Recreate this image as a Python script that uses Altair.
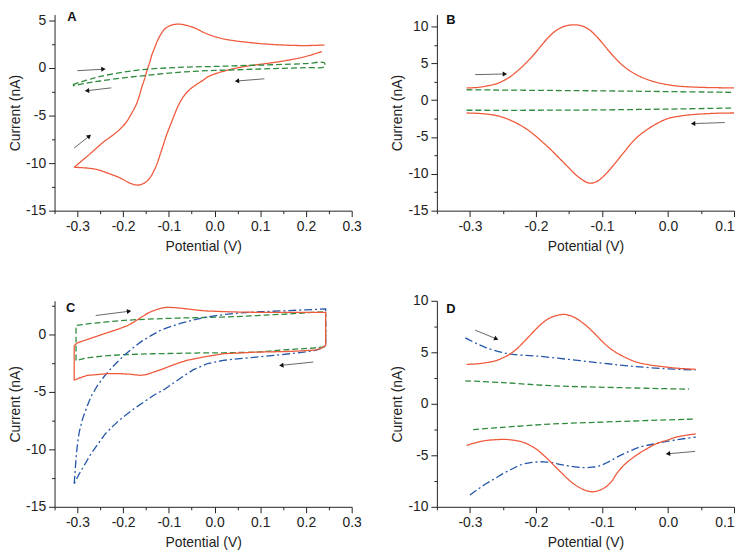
import math
import altair as alt
import pandas as pd

RED = "#ef5a3c"
GREEN = "#2e8b3e"
BLUE = "#2456a8"

# ---------------- tick values ----------------
X_TICKS_AC = [-0.35, -0.3, -0.25, -0.2, -0.15, -0.1, -0.05, 0.0, 0.05, 0.1, 0.15, 0.2, 0.25, 0.3]
X_TICKS_BD = [-0.35, -0.3, -0.25, -0.2, -0.15, -0.1, -0.05, 0.0, 0.05, 0.1]
Y_TICKS_A = [-15, -12.5, -10, -7.5, -5, -2.5, 0, 2.5, 5]
Y_TICKS_B = [-15, -12.5, -10, -7.5, -5, -2.5, 0, 2.5, 5, 7.5, 10]
Y_TICKS_C = [-15, -12.5, -10, -7.5, -5, -2.5, 0, 2.5]
Y_TICKS_D = [-10, -7.5, -5, -2.5, 0, 2.5, 5, 7.5, 10]

# ---------------- panel A ----------------
A_RED_FWD = [(-0.307, -10.45), (-0.29, -9.75), (-0.278, -9.27), (-0.26, -8.5), (-0.242, -7.75),
             (-0.222, -7.05), (-0.205, -6.35), (-0.193, -5.7), (-0.184, -5.0), (-0.176, -4.3),
             (-0.17, -3.7), (-0.164, -2.85), (-0.159, -2.0), (-0.153, -1.15), (-0.148, -0.3),
             (-0.142, 0.55), (-0.137, 1.38), (-0.131, 2.1), (-0.126, 2.74), (-0.119, 3.4),
             (-0.112, 3.92), (-0.103, 4.3), (-0.094, 4.49), (-0.085, 4.58), (-0.075, 4.59),
             (-0.06, 4.45), (-0.047, 4.26), (-0.035, 4.0), (-0.025, 3.75), (-0.01, 3.45),
             (0.01, 3.15), (0.03, 2.95), (0.06, 2.75), (0.1, 2.55), (0.14, 2.42), (0.18, 2.35),
             (0.21, 2.35), (0.24, 2.4)]
A_RED_REV = [(0.235, 1.72), (0.2, 1.2), (0.16, 0.8), (0.12, 0.5), (0.08, 0.25), (0.04, -0.1),
             (0.02, -0.35), (0.0, -0.65), (-0.015, -0.95), (-0.025, -1.3), (-0.035, -1.6),
             (-0.047, -2.0), (-0.058, -2.45), (-0.068, -3.01), (-0.076, -3.65), (-0.083, -4.36),
             (-0.09, -5.2), (-0.097, -6.05), (-0.105, -7.05), (-0.112, -8.08), (-0.119, -9.1),
             (-0.126, -10.1), (-0.133, -10.85), (-0.14, -11.46), (-0.148, -11.9), (-0.155, -12.14),
             (-0.163, -12.28), (-0.17, -12.31), (-0.18, -12.2), (-0.191, -11.97), (-0.205, -11.6),
             (-0.22, -11.3), (-0.24, -10.95), (-0.256, -10.69), (-0.28, -10.52), (-0.307, -10.45)]
A_GREEN = [(-0.31, -1.75), (-0.28, -1.3), (-0.25, -0.9), (-0.2, -0.45), (-0.15, -0.15),
           (-0.1, 0.0), (-0.05, 0.1), (0.0, 0.15), (0.05, 0.22), (0.1, 0.29), (0.15, 0.36),
           (0.2, 0.45), (0.24, 0.54),
           (0.24, 0.12), (0.2, 0.03), (0.15, -0.05), (0.1, -0.12), (0.05, -0.2), (0.0, -0.27),
           (-0.05, -0.38), (-0.1, -0.55), (-0.15, -0.8), (-0.2, -1.05), (-0.25, -1.38),
           (-0.28, -1.6), (-0.31, -1.88)]
A_ARROWS = [((-0.3, -0.3), (-0.243, -0.14)), ((-0.226, -2.1), (-0.279, -2.4)),
            ((0.109, -1.15), (0.049, -1.38)), ((-0.307, -8.42), (-0.274, -7.17))]

# ---------------- panel B ----------------
B_RED_UP = [(-0.305, 1.65), (-0.29, 1.7), (-0.275, 1.9), (-0.26, 2.2), (-0.25, 2.6), (-0.24, 3.1),
            (-0.23, 3.8), (-0.22, 4.6), (-0.21, 5.5), (-0.2, 6.5), (-0.19, 7.6), (-0.18, 8.6),
            (-0.17, 9.4), (-0.16, 9.9), (-0.15, 10.15), (-0.14, 10.2), (-0.13, 10.05), (-0.12, 9.6),
            (-0.11, 8.8), (-0.1, 7.8), (-0.09, 6.7), (-0.08, 5.7), (-0.07, 4.8), (-0.06, 4.1),
            (-0.05, 3.55), (-0.04, 3.1), (-0.025, 2.6), (-0.01, 2.25), (0.01, 1.95), (0.03, 1.8),
            (0.06, 1.7), (0.1, 1.65)]
B_RED_LOW = [(-0.305, -1.75), (-0.28, -1.85), (-0.26, -2.1), (-0.245, -2.5), (-0.23, -3.1),
             (-0.22, -3.6), (-0.21, -4.2), (-0.2, -4.9), (-0.19, -5.7), (-0.18, -6.5), (-0.17, -7.4),
             (-0.16, -8.3), (-0.15, -9.2), (-0.14, -10.1), (-0.13, -10.8), (-0.12, -11.25),
             (-0.112, -11.2), (-0.105, -10.9), (-0.095, -10.1), (-0.085, -9.1), (-0.075, -8.0),
             (-0.065, -6.9), (-0.055, -5.8), (-0.045, -4.9), (-0.03, -3.9), (-0.015, -3.1),
             (0.0, -2.5), (0.02, -2.15), (0.04, -1.95), (0.07, -1.8), (0.1, -1.75)]
B_GREEN_UP = [(-0.305, 1.4), (-0.2, 1.32), (-0.1, 1.25), (0.0, 1.15), (0.1, 1.05)]
B_GREEN_LOW = [(-0.305, -1.38), (-0.2, -1.38), (-0.1, -1.33), (0.0, -1.22), (0.1, -1.08)]
B_ARROWS = [((-0.292, 3.45), (-0.247, 3.54)), ((0.086, -3.05), (0.038, -3.19))]

# ---------------- panel C ----------------
C_RED = [(-0.307, -4.0), (-0.307, -0.98), (-0.3, -0.75), (-0.285, -0.55), (-0.265, -0.28),
         (-0.242, 0.03), (-0.21, 0.45), (-0.19, 0.75), (-0.177, 1.04), (-0.165, 1.35),
         (-0.155, 1.6), (-0.145, 1.85), (-0.133, 2.05), (-0.118, 2.25), (-0.104, 2.34),
         (-0.085, 2.3), (-0.061, 2.2), (-0.04, 2.1), (-0.02, 2.02), (0.019, 1.96), (0.055, 1.92),
         (0.091, 1.9), (0.13, 1.9), (0.164, 1.9), (0.2, 1.9), (0.243, 1.9), (0.243, -0.98),
         (0.235, -1.2), (0.22, -1.38), (0.19, -1.45), (0.164, -1.5), (0.091, -1.56),
         (0.019, -1.7), (-0.025, -1.99), (-0.045, -2.15), (-0.061, -2.28), (-0.08, -2.52),
         (-0.097, -2.77), (-0.115, -3.05), (-0.133, -3.29), (-0.148, -3.5), (-0.162, -3.58),
         (-0.185, -3.48), (-0.206, -3.43), (-0.234, -3.43), (-0.255, -3.5), (-0.278, -3.58),
         (-0.295, -3.8), (-0.307, -4.0)]
C_GREEN = [(-0.303, -2.28), (-0.303, 0.75), (-0.29, 0.83), (-0.278, 0.9), (-0.24, 1.05),
           (-0.206, 1.18), (-0.17, 1.26), (-0.133, 1.33), (-0.08, 1.4), (-0.025, 1.45),
           (0.019, 1.49), (0.06, 1.55), (0.091, 1.62), (0.13, 1.7), (0.164, 1.76), (0.214, 1.9),
           (0.243, 1.95), (0.243, -1.1), (0.214, -1.21), (0.164, -1.33), (0.12, -1.47),
           (0.091, -1.56), (0.019, -1.62), (-0.025, -1.63), (-0.08, -1.66), (-0.133, -1.7),
           (-0.206, -1.79), (-0.25, -1.92), (-0.278, -2.05), (-0.303, -2.28)]
C_BLUE = [(-0.307, -13.0), (-0.305, -11.9), (-0.303, -10.8), (-0.3, -9.6), (-0.296, -8.5),
          (-0.289, -7.4), (-0.281, -6.5), (-0.27, -5.4), (-0.256, -4.45), (-0.242, -3.7),
          (-0.227, -3.0), (-0.212, -2.4), (-0.198, -1.85), (-0.18, -1.25), (-0.162, -0.69),
          (-0.14, -0.15), (-0.119, 0.32), (-0.097, 0.65), (-0.075, 0.93), (-0.05, 1.2),
          (-0.025, 1.42), (0.0, 1.6), (0.03, 1.75), (0.055, 1.85), (0.1, 1.95), (0.164, 2.05),
          (0.2, 2.12), (0.243, 2.19), (0.243, -0.98), (0.235, -1.2), (0.221, -1.41),
          (0.19, -1.58), (0.164, -1.7), (0.13, -1.85), (0.091, -1.99), (0.055, -2.12),
          (0.019, -2.28), (-0.015, -2.55), (-0.047, -3.1), (-0.07, -3.7), (-0.09, -4.25),
          (-0.11, -4.8), (-0.133, -5.3), (-0.155, -5.9), (-0.177, -6.5), (-0.2, -7.2),
          (-0.22, -7.9), (-0.24, -8.7), (-0.256, -9.6), (-0.272, -10.5), (-0.285, -11.4),
          (-0.297, -12.2), (-0.307, -13.0)]
C_ARROWS = [((-0.26, 1.62), (-0.187, 1.99)), ((0.216, -2.42), (0.146, -2.71))]

# ---------------- panel D ----------------
D_RED_UP = [(-0.305, 3.83), (-0.29, 3.88), (-0.275, 4.0), (-0.26, 4.2), (-0.25, 4.47), (-0.24, 4.8),
            (-0.23, 5.27), (-0.22, 5.9), (-0.21, 6.57), (-0.2, 7.25), (-0.19, 7.85), (-0.18, 8.3),
            (-0.17, 8.55), (-0.157, 8.68), (-0.148, 8.55), (-0.14, 8.33), (-0.13, 7.9),
            (-0.12, 7.37), (-0.11, 6.75), (-0.1, 6.08), (-0.09, 5.5), (-0.078, 4.96),
            (-0.063, 4.45), (-0.048, 4.06), (-0.03, 3.8), (-0.008, 3.61), (0.015, 3.45), (0.042, 3.35)]
D_RED_LOW = [(-0.305, -4.04), (-0.29, -3.75), (-0.275, -3.56), (-0.26, -3.48), (-0.245, -3.46),
             (-0.232, -3.55), (-0.22, -3.72), (-0.21, -4.0), (-0.2, -4.37), (-0.19, -4.9),
             (-0.18, -5.49), (-0.17, -6.15), (-0.16, -6.78), (-0.15, -7.4), (-0.14, -7.9),
             (-0.127, -8.35), (-0.114, -8.54), (-0.104, -8.4), (-0.094, -8.06), (-0.085, -7.5),
             (-0.078, -6.8), (-0.065, -5.85), (-0.048, -5.0), (-0.033, -4.4), (-0.018, -3.88),
             (0.0, -3.5), (0.012, -3.24), (0.03, -3.03), (0.042, -2.92)]
D_BLUE_UP = [(-0.307, 6.4), (-0.29, 5.85), (-0.275, 5.44), (-0.255, 5.05), (-0.235, 4.79),
             (-0.2, 4.64), (-0.15, 4.31), (-0.1, 3.95), (-0.058, 3.67), (-0.008, 3.42), (0.042, 3.29)]
D_BLUE_LOW = [(-0.3, -8.86), (-0.288, -8.3), (-0.275, -7.74), (-0.262, -7.25), (-0.25, -6.78),
              (-0.237, -6.35), (-0.225, -5.97), (-0.212, -5.75), (-0.2, -5.65), (-0.188, -5.63),
              (-0.175, -5.72), (-0.162, -5.9), (-0.15, -6.04), (-0.137, -6.15), (-0.125, -6.2),
              (-0.115, -6.15), (-0.105, -6.04), (-0.092, -5.7), (-0.078, -5.2), (-0.06, -4.65),
              (-0.043, -4.2), (-0.025, -3.95), (-0.008, -3.72), (0.017, -3.45), (0.042, -3.24)]
D_GREEN_UP = [(-0.307, 2.23), (-0.25, 2.06), (-0.175, 1.75), (-0.08, 1.58), (0.032, 1.42)]
D_GREEN_LOW = [(-0.295, -2.5), (-0.25, -2.28), (-0.175, -1.96), (-0.08, -1.73), (0.042, -1.47)]
D_ARROWS = [((-0.292, 7.15), (-0.26, 6.31)), ((0.041, -4.62), (0.0, -4.85))]

# panel letters (data coordinates)
LETTERS = {"A": (-0.322, 5.3), "B": (-0.336, 10.9), "C": (-0.325, 2.3), "D": (-0.336, 9.2)}

SERIES = ["red", "green", "blue"]
COLORS = [RED, GREEN, BLUE]
DASHES = [[1, 0], [6, 3], [8, 3, 2, 3]]

FONT = "Liberation Sans"
FS = 14


def make_df(segs):
    rows = []
    for k, (series, pts) in enumerate(segs):
        for i, (v, c) in enumerate(pts):
            rows.append({"V": v, "I": c, "series": series, "seg": k, "i": i})
    return pd.DataFrame(rows)


def panel(segs, arrows, letter, xdom, ydom, w, h, xticks, yticks, interp, flush):
    xs = alt.Scale(domain=xdom, nice=False, zero=False)
    ys = alt.Scale(domain=ydom, nice=False, zero=False)
    xmaj = "abs(datum.value*10 - round(datum.value*10)) < 0.001"
    ymaj = "abs(datum.value/5 - round(datum.value/5)) < 0.001"
    xaxis = alt.Axis(
        values=xticks, title="Potential (V)", grid=False, labelFlush=flush, labelOverlap=False,
        labelExpr=f"{xmaj} ? (datum.value < -0.0001 ? '-' : '') + format(abs(datum.value), '.1f') : ''",
        tickSize={"condition": {"test": xmaj, "value": 6}, "value": 3},
        labelPadding=3, titlePadding=6, labelFontSize=FS, titleFontSize=FS)
    yaxis = alt.Axis(
        values=yticks, title="Current (nA)", grid=False, labelOverlap=False, labelFlush=False,
        labelExpr=f"{ymaj} ? (datum.value < 0 ? '-' : '') + format(abs(datum.value), 'd') : ''",
        tickSize={"condition": {"test": ymaj, "value": 6}, "value": 3},
        labelPadding=3, titlePadding=3, labelFontSize=FS, titleFontSize=FS)

    df = make_df(segs)
    lines = alt.Chart(df).mark_line(interpolate=interp, strokeWidth=1.3).encode(
        x=alt.X("V:Q", scale=xs, axis=xaxis),
        y=alt.Y("I:Q", scale=ys, axis=yaxis),
        color=alt.Color("series:N", scale=alt.Scale(domain=SERIES, range=COLORS), legend=None),
        strokeDash=alt.StrokeDash("series:N", scale=alt.Scale(domain=SERIES, range=DASHES), legend=None),
        detail="seg:N",
        order="i:Q",
    )

    pxv = w / (xdom[1] - xdom[0])
    pxi = h / (ydom[1] - ydom[0])
    arows = []
    for (v1, i1), (v2, i2) in arrows:
        ang = math.degrees(math.atan2(-(i2 - i1) * pxi, (v2 - v1) * pxv)) % 360
        arows.append({"V": v1, "I": i1, "V2": v2, "I2": i2, "ang": ang})
    adf = pd.DataFrame(arows)
    rules = alt.Chart(adf).mark_rule(color="#555", strokeWidth=0.9).encode(
        x=alt.X("V:Q", scale=xs, axis=xaxis), x2="V2:Q",
        y=alt.Y("I:Q", scale=ys, axis=yaxis), y2="I2:Q")
    heads = alt.Chart(adf).mark_point(shape="triangle-right", filled=True, color="#111",
                                      size=26, opacity=1).encode(
        x=alt.X("V2:Q", scale=xs, axis=xaxis),
        y=alt.Y("I2:Q", scale=ys, axis=yaxis),
        angle=alt.Angle("ang:Q", scale=None))

    lv, li = LETTERS[letter]
    ldf = pd.DataFrame([{"V": lv, "I": li, "t": letter}])
    text = alt.Chart(ldf).mark_text(align="left", baseline="middle", fontWeight="bold",
                                    fontSize=13, font=FONT, color="#111").encode(
        x=alt.X("V:Q", scale=xs, axis=xaxis),
        y=alt.Y("I:Q", scale=ys, axis=yaxis),
        text="t:N")
    return alt.layer(lines, rules, heads, text).properties(width=w, height=h)


pA = panel([("red", A_RED_FWD), ("red", A_RED_REV), ("green", A_GREEN)], A_ARROWS, "A",
           [-0.35, 0.3], [-15, 5.6], 300, 198, X_TICKS_AC, Y_TICKS_A, "catmull-rom", False)
pB = panel([("red", B_RED_UP), ("red", B_RED_LOW), ("green", B_GREEN_UP), ("green", B_GREEN_LOW)],
           B_ARROWS, "B", [-0.35, 0.1], [-15, 11.6], 300, 198, X_TICKS_BD, Y_TICKS_B,
           "catmull-rom", True)
pC = panel([("green", C_GREEN), ("blue", C_BLUE), ("red", C_RED)], C_ARROWS, "C",
           [-0.35, 0.3], [-15, 2.9], 300, 208, X_TICKS_AC, Y_TICKS_C, "linear", False)
pD = panel([("green", D_GREEN_UP), ("green", D_GREEN_LOW), ("blue", D_BLUE_UP), ("blue", D_BLUE_LOW),
            ("red", D_RED_UP), ("red", D_RED_LOW)], D_ARROWS, "D",
           [-0.35, 0.1], [-10, 10], 300, 208, X_TICKS_BD, Y_TICKS_D, "catmull-rom", True)

chart = alt.vconcat(
    alt.hconcat(pA, pB, spacing=29),
    alt.hconcat(pC, pD, spacing=29),
    spacing=41,
).properties(padding=0).configure_view(stroke=None).configure_axis(
    domainColor="#222", tickColor="#222", labelColor="#222", titleColor="#222",
    labelFont=FONT, titleFont=FONT, labelFontSize=FS, titleFontSize=FS,
    titleFontWeight="normal", domainWidth=1, tickWidth=1,
)

chart.save("out.html", embed_options={"renderer": "svg", "actions": False})
